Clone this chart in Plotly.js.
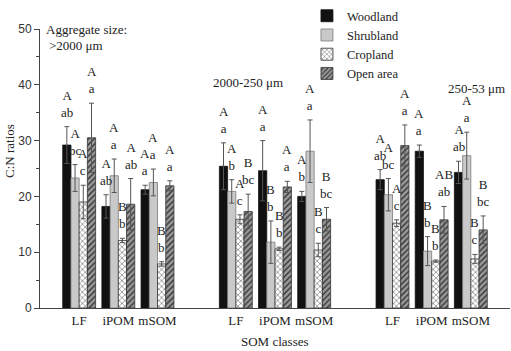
<!DOCTYPE html>
<html>
<head>
<meta charset="utf-8">
<script src="https://cdn.plot.ly/plotly-3.0.1.min.js"></script>
<style>html,body{margin:0;padding:0;background:#fff;}#chart{width:511px;height:351px;}</style>
</head>
<body>
<div id="chart"></div>
<script>
// ---- data ----
const sizeClasses = ['>2000 μm', '2000-250 μm', '250-53 μm'];
const somClasses = ['LF', 'iPOM', 'mSOM'];
const landUses = ['Woodland', 'Shrubland', 'Cropland', 'Open area'];

// values ordered: [>2000: LF,iPOM,mSOM, 2000-250: LF,iPOM,mSOM, 250-53: LF,iPOM,mSOM]
const woodland  = [29.2, 18.2, 21.2, 25.4, 24.6, 20.0, 23.0, 28.1, 24.3];
const shrubland = [23.3, 23.7, 22.5, 20.9, 11.8, 28.1, 20.3, 10.2, 27.3];
const cropland  = [19.0, 12.1, 7.9, 15.9, 10.6, 10.4, 15.2, 8.4, 8.8];
const openArea  = [30.5, 18.6, 21.9, 17.3, 21.7, 15.9, 29.1, 15.8, 14.0];

const woodlandErr  = [3.3, 2.1, 0.8, 4.2, 5.4, 0.9, 1.8, 1.1, 2.0];
const shrublandErr = [2.4, 3.0, 2.4, 2.1, 3.8, 5.6, 2.9, 2.6, 4.2];
const croplandErr  = [3.0, 0.4, 0.4, 0.8, 0.3, 1.2, 0.6, 0.2, 0.8];
const openAreaErr  = [6.2, 4.6, 0.9, 3.1, 1.0, 2.1, 3.7, 2.4, 2.5];

const woodlandCap  = ['A', 'A', 'A', 'A', 'A', 'A', 'A', 'A', 'A'];
const woodlandLow  = ['ab', 'ab', 'a', 'a', 'a', 'b', 'ab', 'a', 'ab'];
const shrublandCap = ['A', 'A', 'A', 'A', 'B', 'A', 'A', 'B', 'A'];
const shrublandLow = ['bc', 'a', 'a', 'b', 'b', 'a', 'bc', 'b', 'a'];
const croplandCap  = ['A', 'B', 'B', 'A', 'B', 'B', 'A', 'B', 'B'];
const croplandLow  = ['c', 'b', 'b', 'c', 'b', 'c', 'c', 'b', 'c'];
const openAreaCap  = ['A', 'A', 'A', 'B', 'A', 'B', 'A', 'AB', 'B'];
const openAreaLow  = ['a', 'ab', 'a', 'bc', 'a', 'bc', 'a', 'ab', 'bc'];

const yTitle = 'C:N ratios';
const xTitle = 'SOM classes';

// ---- build ----
const serif = 'Liberation Serif, Times New Roman, Times, serif';
const sans = 'Liberation Sans, Arial, Helvetica, sans-serif';
const xpos = [];
const xlab = [];
sizeClasses.forEach((s, g) => somClasses.forEach((c, j) => { xpos.push(g + 0.25 * (j + 1)); xlab.push(c); }));

const series = [
  {name: landUses[0], y: woodland, e: woodlandErr, cap: woodlandCap, low: woodlandLow,
   marker: {color: '#111111', line: {color: '#111111', width: 0.8}}},
  {name: landUses[1], y: shrubland, e: shrublandErr, cap: shrublandCap, low: shrublandLow,
   marker: {color: '#c9c9c9', line: {color: '#7a7a7a', width: 0.8}}},
  {name: landUses[2], y: cropland, e: croplandErr, cap: croplandCap, low: croplandLow,
   marker: {color: '#ffffff', line: {color: '#333333', width: 0.8},
            pattern: {shape: 'x', fgcolor: '#222222', bgcolor: '#ffffff', size: 4, solidity: 0.2}}},
  {name: landUses[3], y: openArea, e: openAreaErr, cap: openAreaCap, low: openAreaLow,
   marker: {color: '#8c8c8c', line: {color: '#333333', width: 0.8},
            pattern: {shape: '/', fgcolor: '#333333', bgcolor: '#9a9a9a', size: 4, solidity: 0.35}}}
];

const bargap = 0.16;
const barW = 0.25 * (1 - bargap) / series.length;

const traces = series.map(s => ({
  type: 'bar', name: s.name, x: xpos, y: s.y, marker: s.marker,
  error_y: {type: 'data', array: s.e, visible: true, color: '#555555', thickness: 1, width: 2.5},
  hoverinfo: 'skip'
}));

const annotations = [];
series.forEach((s, i) => {
  s.y.forEach((v, k) => {
    annotations.push({
      x: xpos[k] + (i - (series.length - 1) / 2) * barW, y: v + s.e[k],
      xref: 'x', yref: 'y', text: s.cap[k] + '<br>' + s.low[k],
      showarrow: false, yanchor: 'bottom', xanchor: 'center',
      font: {family: serif, size: 13, color: '#222'}, borderpad: 0, yshift: 6
    });
  });
});

annotations.push(
  {xref: 'paper', yref: 'paper', x: 0.0085, y: 1.0, xanchor: 'left', yanchor: 'middle', showarrow: false,
   text: 'Aggregate size:', font: {family: serif, size: 13, color: '#222'}},
  {xref: 'paper', yref: 'paper', x: 0.015, y: 0.942, xanchor: 'left', yanchor: 'middle', showarrow: false,
   text: '&gt;' + sizeClasses[0].slice(1), font: {family: serif, size: 13, color: '#222'}},
  {xref: 'paper', yref: 'paper', x: 0.4426, y: 0.809, xanchor: 'center', yanchor: 'middle', showarrow: false,
   text: sizeClasses[1], font: {family: serif, size: 13, color: '#222'}},
  {xref: 'paper', yref: 'paper', x: 0.928, y: 0.788, xanchor: 'center', yanchor: 'middle', showarrow: false,
   text: sizeClasses[2], font: {family: serif, size: 13, color: '#222'}},
  {xref: 'paper', yref: 'paper', x: -0.0638, y: 0.563, xanchor: 'center', yanchor: 'middle', showarrow: false,
   textangle: -90, text: yTitle, font: {family: serif, size: 13, color: '#222'}},
  {xref: 'paper', yref: 'paper', x: 0.5, y: -0.119, xanchor: 'center', yanchor: 'middle', showarrow: false,
   text: xTitle, font: {family: serif, size: 13, color: '#222'}}
);

const layout = {
  width: 511, height: 351,
  margin: {l: 40, r: 1, t: 15, b: 43},
  paper_bgcolor: '#ffffff', plot_bgcolor: '#ffffff',
  barmode: 'group', bargap: bargap, bargroupgap: 0,
  showlegend: true,
  legend: {x: 0.568, y: 1.10, xanchor: 'left', yanchor: 'top', bgcolor: 'rgba(0,0,0,0)', borderwidth: 0,
           font: {family: serif, size: 12.5, color: '#222'}, tracegroupgap: 0, itemwidth: 30},
  xaxis: {range: [0, 3], tickmode: 'array', tickvals: xpos, ticktext: xlab, ticks: '',
          showline: true, linecolor: '#444', linewidth: 1, showgrid: false, zeroline: false,
          tickfont: {family: serif, size: 13, color: '#222'}, fixedrange: true},
  xaxis2: {overlaying: 'x', anchor: 'y', side: 'bottom', range: [0, 3], tickmode: 'array', tickvals: [0, 1, 2, 3],
           ticks: 'outside', ticklen: 5, tickcolor: '#444', tickwidth: 1, showticklabels: false,
           showgrid: false, zeroline: false, showline: false,
           minor: {tickmode: 'array', tickvals: [0.5, 1.5, 2.5], ticks: 'outside', ticklen: 3, tickcolor: '#444'}},
  yaxis: {range: [0, 50], dtick: 10, ticks: 'outside', ticklen: 5, tickcolor: '#444', tickwidth: 1,
          minor: {dtick: 5, ticks: 'outside', ticklen: 3, tickcolor: '#444'},
          showline: true, linecolor: '#444', linewidth: 1, showgrid: false, zeroline: false,
          tickfont: {family: sans, size: 12, color: '#333'}, fixedrange: true},
  annotations: annotations
};

Plotly.newPlot('chart', traces, layout, {displayModeBar: false, staticPlot: true});
</script>
</body>
</html>
